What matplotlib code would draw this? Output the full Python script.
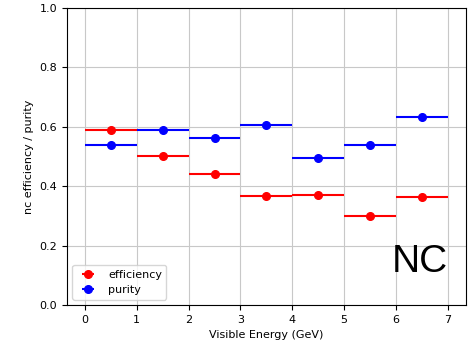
import numpy as np
import matplotlib
matplotlib.use('Agg')
import matplotlib.pyplot as plt

# bin centres (GeV) and half widths
energy = [0.5, 1.5, 2.5, 3.5, 4.5, 5.5, 6.5]
bin_half = [0.5, 0.5, 0.5, 0.5, 0.5, 0.5, 0.5]
efficiency = [0.590, 0.502, 0.441, 0.367, 0.371, 0.300, 0.364]
purity = [0.539, 0.589, 0.561, 0.606, 0.494, 0.539, 0.633]

fig = plt.figure(figsize=(4.74, 3.46), dpi=100)
ax = fig.add_axes([0.141, 0.118, 0.842, 0.859])

ax.errorbar(energy, efficiency, xerr=bin_half, fmt='o', color='red',
            markersize=5.5, label='efficiency')
ax.errorbar(energy, purity, xerr=bin_half, fmt='o', color='blue',
            markersize=5.5, label='purity')

ax.set_ylim(0, 1)
ax.set_xlim(-0.35, 7.35)
ax.set_xlabel('Visible Energy (GeV)', fontsize=8)
ax.set_ylabel('nc efficiency / purity', fontsize=8)
ax.tick_params(labelsize=8)
ax.grid(True, color='#c8c8c8')
ax.legend(loc='lower left', fontsize=8)
ax.text(5.92, 0.111, 'NC', fontsize=28, family='Liberation Sans')

plt.savefig('out.png', dpi=100)
